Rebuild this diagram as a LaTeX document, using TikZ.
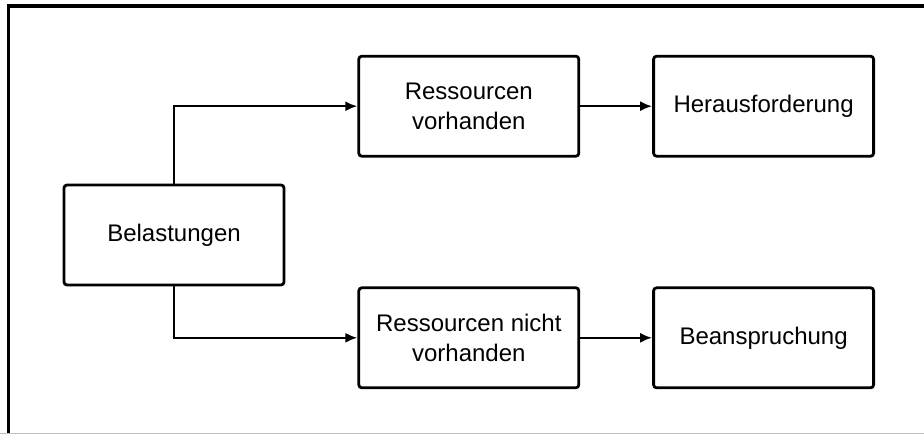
\documentclass[tikz,border=0pt]{standalone}
\usepackage{fontspec}
\setmainfont{Liberation Sans}
\usetikzlibrary{positioning,arrows.meta}

\begin{document}
\begin{tikzpicture}[x=0.5pt,y=-0.5pt,>={Latex[length=6pt,width=5pt]},node distance=36pt, box/.style={rectangle,draw,line width=1.4pt,rounded corners=1.5pt,minimum width=110pt,minimum height=50pt,align=center,font=\fontsize{12}{15}\selectfont}]

            \useasboundingbox (0,0) rectangle (924,435);
            \draw[line width=1.6pt] (924,6) -- (8.5,6) -- (8.5,433);
            \draw[black!25] (0,433.5) -- (924,433.5);

            \node[box] (belast) at (174,235) {Belastungen};

            \node[box] (ressv) [above right=13pt and 36pt of belast] {Ressourcen\\vorhanden};
            \node[box] (ressnv) [below right=0pt and 36pt of belast] {Ressourcen nicht\\vorhanden};

            \node[box] (herausf) [right=of ressv] {Herausforderung};
            \node[box] (beansp) [right=of ressnv] {Beanspruchung};

            \draw[->,line width=1.2pt] (belast.north) |- (ressv.west);
            \draw[->,line width=1.2pt] (belast.south) |- (ressnv.west);
            \draw[->,line width=1.2pt] (ressv) -- (herausf);
            \draw[->,line width=1.2pt] (ressnv) -- (beansp);
        \end{tikzpicture}
\end{document}
